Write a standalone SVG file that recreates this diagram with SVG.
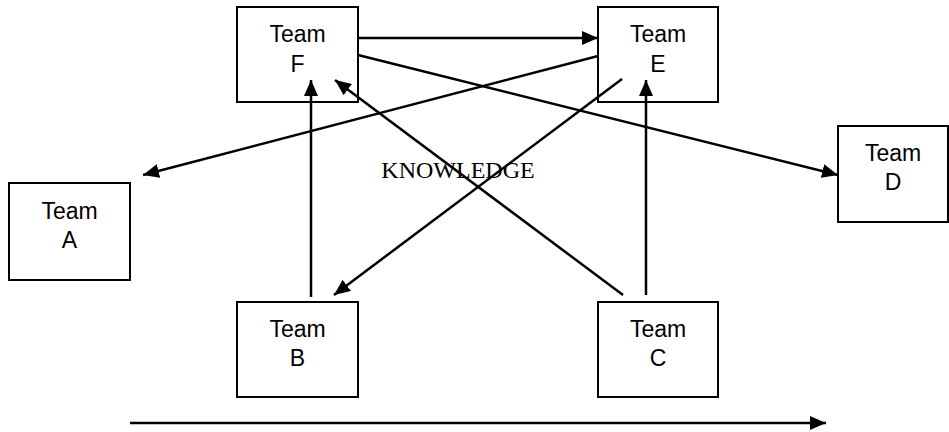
<svg xmlns="http://www.w3.org/2000/svg" width="949" height="432" viewBox="0 0 949 432">
<style>
.box{fill:#fff;stroke:#000;stroke-width:2}
.lbl{font-family:"Liberation Sans",Arial,sans-serif;font-size:23px;fill:#000;text-anchor:middle}
.con{stroke:#000;stroke-width:2.5;fill:none;marker-end:url(#ah)}
.kn{font-family:"Liberation Serif","Times New Roman",serif;font-size:24px;fill:#000;text-anchor:middle}
</style>
<defs>
<marker id="ah" markerUnits="userSpaceOnUse" markerWidth="18" markerHeight="14" refX="16" refY="7" orient="auto">
<path d="M0,0 L16,7 L0,14 Z" fill="#000"/>
</marker>
</defs>
<rect width="949" height="432" fill="#fff"/>
<g id="teamF"><rect class="box" x="237" y="7" width="121" height="95"/><text class="lbl" x="297.5" y="42">Team</text><text class="lbl" x="297.5" y="72">F</text></g>
<g id="teamE"><rect class="box" x="598" y="7" width="120" height="95"/><text class="lbl" x="658" y="42">Team</text><text class="lbl" x="658" y="72">E</text></g>
<g id="teamA"><rect class="box" x="9" y="183" width="121" height="97"/><text class="lbl" x="69.5" y="219">Team</text><text class="lbl" x="69.5" y="248">A</text></g>
<g id="teamD"><rect class="box" x="838" y="126" width="110" height="96"/><text class="lbl" x="893" y="161">Team</text><text class="lbl" x="893" y="190">D</text></g>
<g id="teamB"><rect class="box" x="237" y="302" width="121" height="95"/><text class="lbl" x="297.5" y="337">Team</text><text class="lbl" x="297.5" y="366">B</text></g>
<g id="teamC"><rect class="box" x="598" y="302" width="120" height="95"/><text class="lbl" x="658" y="337">Team</text><text class="lbl" x="658" y="366">C</text></g>
<text class="kn" x="458" y="178">KNOWLEDGE</text>
<g id="connectors">
<line class="con" x1="358" y1="38" x2="598" y2="38"/>
<line class="con" x1="358" y1="55" x2="838" y2="175"/>
<line class="con" x1="598" y1="56" x2="143" y2="175"/>
<line class="con" x1="622" y1="79" x2="334" y2="295"/>
<line class="con" x1="311" y1="297" x2="311" y2="80"/>
<line class="con" x1="623" y1="295" x2="335" y2="80"/>
<line class="con" x1="646" y1="295" x2="646" y2="80"/>
<line class="con" x1="130" y1="423" x2="826" y2="423"/>
</g>
</svg>
